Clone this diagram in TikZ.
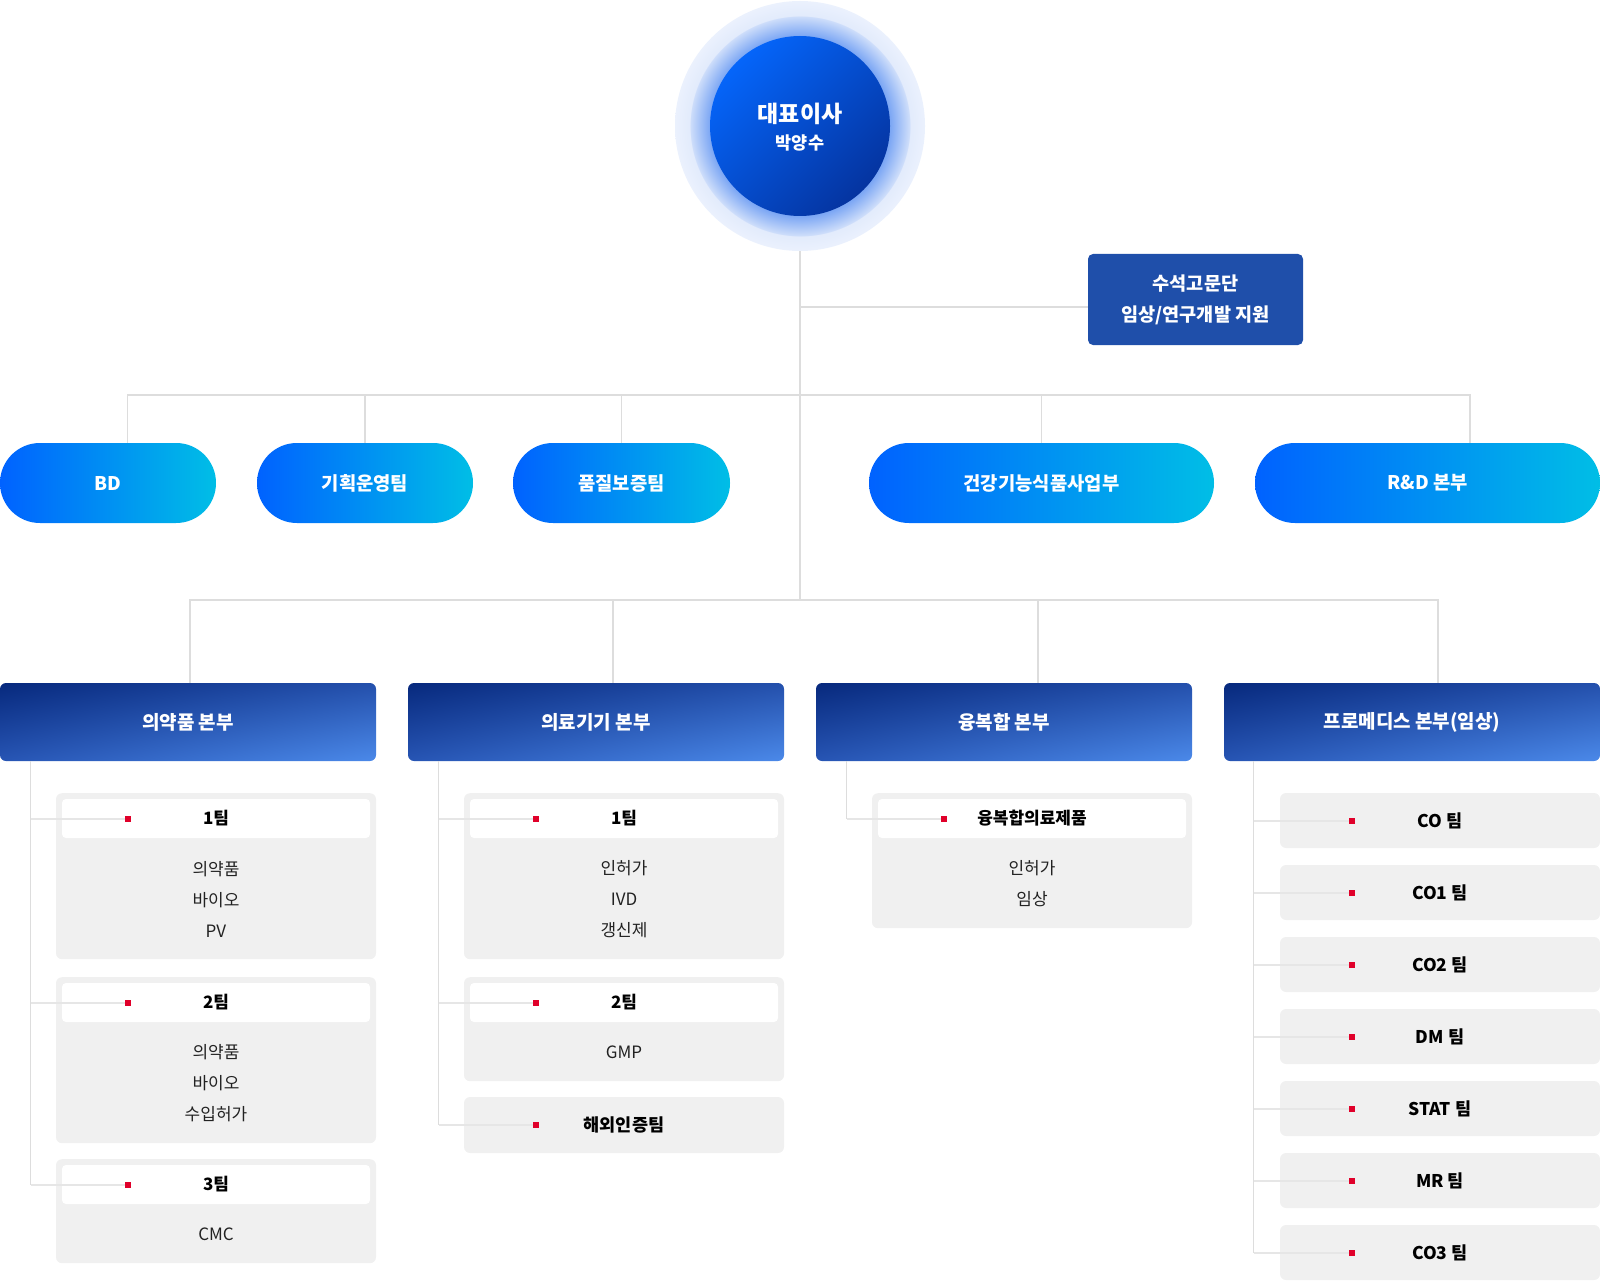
\documentclass[tikz,border=0pt]{standalone}
\usepackage{fontspec}
\setmainfont{Noto Sans CJK KR}
\usepackage{tikz}
\usetikzlibrary{positioning,calc,shadings}
\definecolor{pillL}{HTML}{0062FF}
\definecolor{pillR}{HTML}{00BEE6}
\definecolor{headUL}{HTML}{07297D}
\definecolor{headUR}{HTML}{2450AC}
\definecolor{headLL}{HTML}{2755B4}
\definecolor{headLR}{HTML}{4B89E9}
\definecolor{advis}{HTML}{1F4FAA}
\definecolor{ceoA}{HTML}{0565FA}
\definecolor{ceoB}{HTML}{0534A0}
\definecolor{glowA}{HTML}{7BA6F4}
\definecolor{glowB}{HTML}{CDDDFA}
\definecolor{glowC}{HTML}{E2EBFC}
\definecolor{glowD}{HTML}{EBF1FD}
\definecolor{wire}{HTML}{DDDDDD}
\definecolor{twire}{HTML}{E6E6E6}
\definecolor{teambg}{HTML}{F0F0F0}
\definecolor{redmark}{HTML}{E0002A}
\definecolor{itemtxt}{HTML}{222222}
\pgfdeclareradialshading{ceoglow}{\pgfpoint{0bp}{0bp}}{color(0bp)=(glowA); color(18bp)=(glowA); color(21.9bp)=(glowB); color(22bp)=(glowC); color(25bp)=(glowD); color(50bp)=(glowD)}
\begin{document}
\begin{tikzpicture}[x=1pt,y=-1pt,
  wire/.style={draw=wire,line width=1.3pt},
  twire/.style={draw=twire,line width=2pt},
  pillbox/.style={rounded corners=39.9pt,minimum height=80pt,inner sep=0pt,left color=pillL,right color=pillR,text=white,font=\bfseries\fontsize{18.8}{22}\selectfont},
  hqbox/.style={rounded corners=6pt,minimum width=376pt,minimum height=78pt,inner sep=0pt,upper left=headUL,upper right=headUR,lower left=headLL,lower right=headLR,text=white,font=\bfseries\fontsize{19}{22}\selectfont},
  advbox/.style={fill=advis,rounded corners=5pt,minimum width=215pt,minimum height=91pt,inner sep=0pt,text=white,align=center,font=\bfseries\fontsize{18.6}{31}\selectfont},
  tmbox/.style={fill=teambg,rounded corners=6pt,minimum width=320pt,inner sep=0pt,text=black,font=\bfseries\fontsize{17.5}{21}\selectfont},
  tmbar/.style={fill=white,rounded corners=4pt,minimum width=308pt,minimum height=39pt,inner sep=0pt,text=black,font=\bfseries\fontsize{17}{20}\selectfont},
  titem/.style={align=center,inner sep=0pt,text=itemtxt,font=\fontsize{17}{31}\selectfont},
  redsq/.style={fill=redmark,minimum size=6pt,inner sep=0pt}]
\useasboundingbox (0,0) rectangle (1600,1281);
\shade[shading=ceoglow] (800,126) circle (125);
\node[circle,minimum size=180pt,top color=ceoA,bottom color=ceoB,shading angle=45] (ceo) at (800,126) {};
\node[text=white,font=\bfseries\fontsize{23}{27}\selectfont] (ceoname) at (800,114) {대표이사};
\node[text=white,font=\bfseries\fontsize{17.5}{20}\selectfont] (ceosub) at (800,143) {박양수};
\node[advbox] (adv) at (1195.5,299.5) {수석고문단\\임상/연구개발 지원};

\node[pillbox,minimum width=216pt] (bd) at (108,483) {BD};
\node[pillbox,minimum width=216pt] (plan) at (365,483) {기획운영팀};
\node[pillbox,minimum width=217pt] (qa) at (621.5,483) {품질보증팀};
\node[pillbox,minimum width=345pt] (food) at (1041.5,483) {건강기능식품사업부};
\node[pillbox,minimum width=345pt] (rnd) at (1427.5,483) {R\&D 본부};

\node[hqbox] (h1) at (188,722) {의약품 본부};
\node[hqbox] (h2) at (596,722) {의료기기 본부};
\node[hqbox] (h3) at (1004,722) {융복합 본부};
\node[hqbox] (h4) at (1412,722) {프로메디스 본부(임상)};

\coordinate (bus1) at (800,395);
\coordinate (bus2) at (800,600);
\draw[wire] ([yshift=-35pt]ceo.south) -- (bus2);
\draw[wire] ([yshift=-7.5pt]adv.west) -- ([yshift=-7.5pt]adv.west -| ceo.south);
\draw[wire] ([xshift=19.5pt]bd.north) |- (bus1) -| ([xshift=42.5pt]rnd.north);
\foreach \n in {plan,qa,food} \draw[wire] (\n.north) -- (\n.north |- bus1);
\draw[wire] ([xshift=2pt]h1.north) |- (bus2) -| ([xshift=26pt]h4.north);
\draw[wire] ([xshift=17pt]h2.north) -- ([xshift=17pt]h2.north |- bus2);
\draw[wire] ([xshift=34pt]h3.north) -- ([xshift=34pt]h3.north |- bus2);

\node[tmbox,minimum height=166pt,anchor=north] (m1) at (216,793) {};
\node[tmbar] (m1t) at (216,818.5) {1팀};
\node[titem] (m1i) at (216,899) {의약품\\바이오\\PV};
\node[redsq] (m1d) at (128,818.5) {};
\node[tmbox,minimum height=166pt,anchor=north] (m2) at (216,977) {};
\node[tmbar] (m2t) at (216,1002.5) {2팀};
\node[titem] (m2i) at (216,1083) {의약품\\바이오\\수입허가};
\node[redsq] (m2d) at (128,1002.5) {};
\node[tmbox,minimum height=104pt,anchor=north] (m3) at (216,1159) {};
\node[tmbar] (m3t) at (216,1184.5) {3팀};
\node[titem] (m3i) at (216,1234) {CMC};
\node[redsq] (m3d) at (128,1184.5) {};
\coordinate (t1) at ([xshift=31pt]h1.south west);
\draw[wire] (t1) -- (t1 |- m3d);
\foreach \d in {m1d,m2d,m3d} \draw[twire] (\d.west) -- (\d.west -| t1);

\node[tmbox,minimum height=166pt,anchor=north] (d1) at (624,793) {};
\node[tmbar] (d1t) at (624,818.5) {1팀};
\node[titem] (d1i) at (624,899) {인허가\\IVD\\갱신제};
\node[redsq] (d1d) at (536,818.5) {};
\node[tmbox,minimum height=104pt,anchor=north] (d2) at (624,977) {};
\node[tmbar] (d2t) at (624,1002.5) {2팀};
\node[titem] (d2i) at (624,1052) {GMP};
\node[redsq] (d2d) at (536,1002.5) {};
\node[tmbox,minimum height=56pt] (d3) at (624,1125) {해외인증팀};
\node[redsq] (d3d) at (536,1125) {};
\coordinate (t2) at ([xshift=31pt]h2.south west);
\draw[wire] (t2) -- (t2 |- d3d);
\foreach \d in {d1d,d2d,d3d} \draw[twire] (\d.west) -- (\d.west -| t2);

\node[tmbox,minimum height=135pt,anchor=north] (c1) at (1032,793) {};
\node[tmbar] (c1t) at (1032,818.5) {융복합의료제품};
\node[titem] (c1i) at (1032,883.5) {인허가\\임상};
\node[redsq] (c1d) at (944,818.5) {};
\coordinate (t3) at ([xshift=31pt]h3.south west);
\draw[wire] (t3) -- (t3 |- c1d);
\draw[twire] (c1d.west) -- (c1d.west -| t3);

\coordinate (t4) at ([xshift=30pt]h4.south west);
\foreach \t [count=\i] in {CO 팀,CO1 팀,CO2 팀,DM 팀,STAT 팀,MR 팀,CO3 팀} {
  \node[tmbox,minimum height=55pt] (p\i) at (1440,{748.5+72*\i}) {\t};
  \node[redsq] (pd\i) at (1352,{748.5+72*\i}) {};
  \draw[twire] (pd\i.west) -- (pd\i.west -| t4);
}
\draw[wire] (t4) -- (t4 |- pd7);
\end{tikzpicture}
\end{document}
